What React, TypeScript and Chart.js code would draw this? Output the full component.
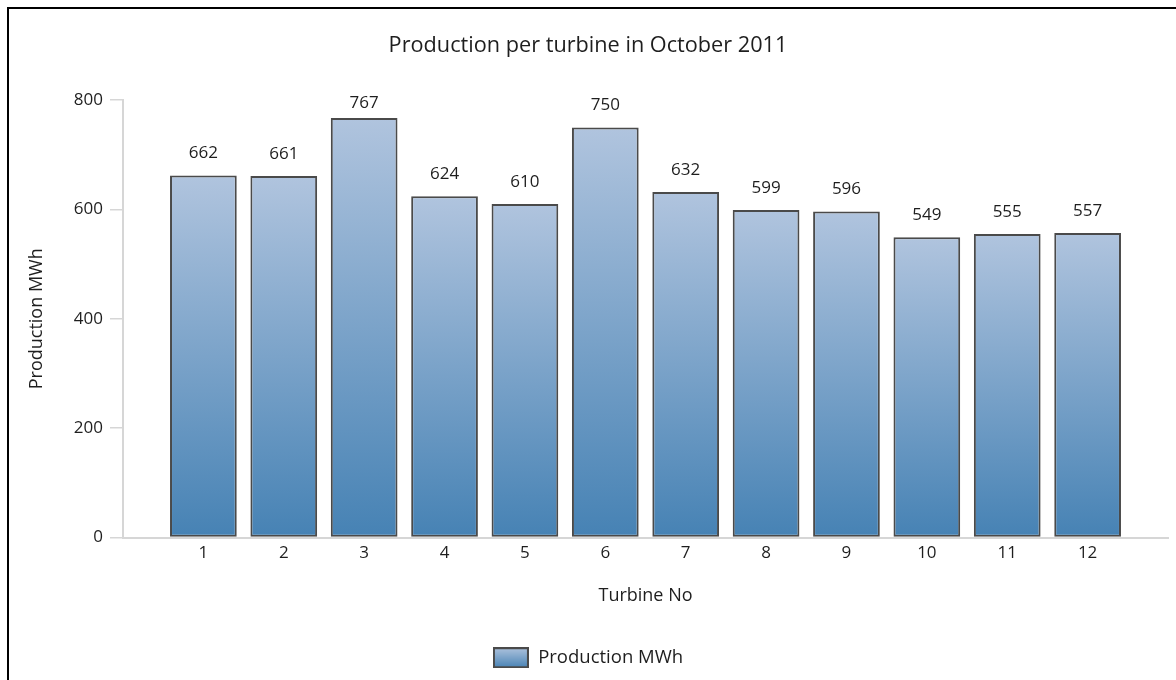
import React, { useEffect, useRef } from 'react';
import { Chart, registerables } from 'chart.js';

Chart.register(...registerables);

// ---- data ----
const chartTitle = 'Production per turbine in October 2011';
const turbines = ['1', '2', '3', '4', '5', '6', '7', '8', '9', '10', '11', '12'];
const production = [662, 661, 767, 624, 610, 750, 632, 599, 596, 549, 555, 557];
const yTickValues = [0, 200, 400, 600, 800];
const seriesName = 'Production MWh';
const xAxisTitle = 'Turbine No';
const yAxisTitle = 'Production MWh';

// ---- styles ----
const FONT = "'Open Sans', 'Noto Sans', sans-serif";
const TEXT = '#1e1e1e';
const GRAD_TOP = '#B0C4DE';
const GRAD_BOTTOM = '#4682B4';
const EDGE = '#4a4a4a';
const AXIS = '#d6d6d6';

function makeLegendSwatch(): HTMLCanvasElement {
  const c = document.createElement('canvas');
  c.width = 36;
  c.height = 21;
  const g = c.getContext('2d')!;
  const grad = g.createLinearGradient(0, 0, 0, 21);
  grad.addColorStop(0, GRAD_TOP);
  grad.addColorStop(1, GRAD_BOTTOM);
  g.fillStyle = grad;
  g.fillRect(0, 0, 36, 21);
  g.strokeStyle = EDGE;
  g.lineWidth = 2;
  g.strokeRect(1, 1, 34, 19);
  return c;
}

const valueLabelPlugin = {
  id: 'valueLabels',
  afterDatasetsDraw(chart: any) {
    const ctx = chart.ctx;
    const meta = chart.getDatasetMeta(0);
    const minY = chart.chartArea.top + 3;
    ctx.save();
    ctx.font = `17px ${FONT}`;
    ctx.fillStyle = TEXT;
    ctx.textAlign = 'center';
    ctx.textBaseline = 'middle';
    meta.data.forEach((bar: any, i: number) => {
      ctx.fillText(String(production[i]), bar.x, Math.max(bar.y - 22, minY));
    });
    ctx.restore();
  },
};

export default function App() {
  const ref = useRef<HTMLCanvasElement | null>(null);

  useEffect(() => {
    if (!ref.current) return;
    const swatch = makeLegendSwatch();
    const chart = new Chart(ref.current, {
      type: 'bar',
      data: {
        datasets: [
          {
            label: seriesName,
            data: production.map((v, i) => ({ x: Number(turbines[i]), y: v })),
            backgroundColor: (ctx: any) => {
              const ch = ctx.chart;
              if (!ch.chartArea || ctx.type !== 'data' || !ctx.parsed) return GRAD_BOTTOM;
              const ys = ch.scales.y;
              const top = ys.getPixelForValue(ctx.parsed.y);
              const base = ys.getPixelForValue(0);
              if (!isFinite(top) || !isFinite(base) || top === base) return GRAD_BOTTOM;
              const g = ch.ctx.createLinearGradient(0, top, 0, base);
              g.addColorStop(0, GRAD_TOP);
              g.addColorStop(1, GRAD_BOTTOM);
              return g;
            },
            borderColor: EDGE,
            borderWidth: 2,
            borderSkipped: false,
            categoryPercentage: 1,
            barPercentage: 0.83,
          },
        ],
      },
      options: {
        animation: false,
        responsive: false,
        maintainAspectRatio: false,
        layout: { padding: { left: 8, right: 8, top: 11, bottom: 3 } },
        plugins: {
          title: {
            display: true,
            text: chartTitle,
            color: TEXT,
            font: { family: FONT, size: 21.7, weight: 'normal' },
            padding: { top: 22, bottom: 41 },
          },
          legend: {
            position: 'bottom',
            labels: {
              usePointStyle: true,
              pointStyle: swatch as any,
              pointStyleWidth: 36,
              boxHeight: 21,
              color: TEXT,
              font: { family: FONT, size: 18.5 },
              padding: 10,
            },
          },
          tooltip: { enabled: false },
        },
        scales: {
          x: {
            type: 'linear',
            min: 0,
            max: 13,
            offset: false,
            grid: { display: false, drawTicks: false },
            border: { display: true, color: AXIS, width: 2 },
            ticks: {
              stepSize: 1,
              autoSkip: false,
              maxRotation: 0,
              padding: 5,
              color: TEXT,
              font: { family: FONT, size: 17 },
              callback: (v: any) => {
                const idx = turbines.indexOf(String(v));
                return idx >= 0 ? turbines[idx] : '';
              },
            },
            title: {
              display: true,
              text: xAxisTitle,
              color: TEXT,
              font: { family: FONT, size: 18 },
              padding: { top: 17, bottom: 32 },
            },
          },
          y: {
            min: 0,
            max: 800,
            afterBuildTicks: (scale: any) => {
              scale.ticks = yTickValues.map((v) => ({ value: v }));
            },
            afterFit: (scale: any) => {
              scale.width = 115;
            },
            grid: {
              display: true,
              drawOnChartArea: false,
              drawTicks: true,
              tickLength: 13,
              color: AXIS,
              lineWidth: 1.5,
            },
            border: { display: true, color: AXIS, width: 2 },
            ticks: {
              padding: 7,
              color: TEXT,
              font: { family: FONT, size: 17 },
            },
            title: {
              display: true,
              text: yAxisTitle,
              color: TEXT,
              font: { family: FONT, size: 18 },
              padding: { top: 18, bottom: 4 },
            },
          },
        },
      },
      plugins: [valueLabelPlugin],
    } as any);
    return () => chart.destroy();
  }, []);

  return (
    <div style={{ position: 'absolute', left: 0, top: 0, width: 1176, height: 680, background: '#fff' }}>
      <canvas ref={ref} width={1176} height={680} style={{ width: 1176, height: 680, display: 'block' }} />
      <div
        style={{
          position: 'absolute',
          left: 7,
          top: 7,
          width: 1169,
          height: 673,
          boxSizing: 'border-box',
          borderTop: '2px solid #000',
          borderLeft: '2px solid #000',
          pointerEvents: 'none',
        }}
      />
    </div>
  );
}
